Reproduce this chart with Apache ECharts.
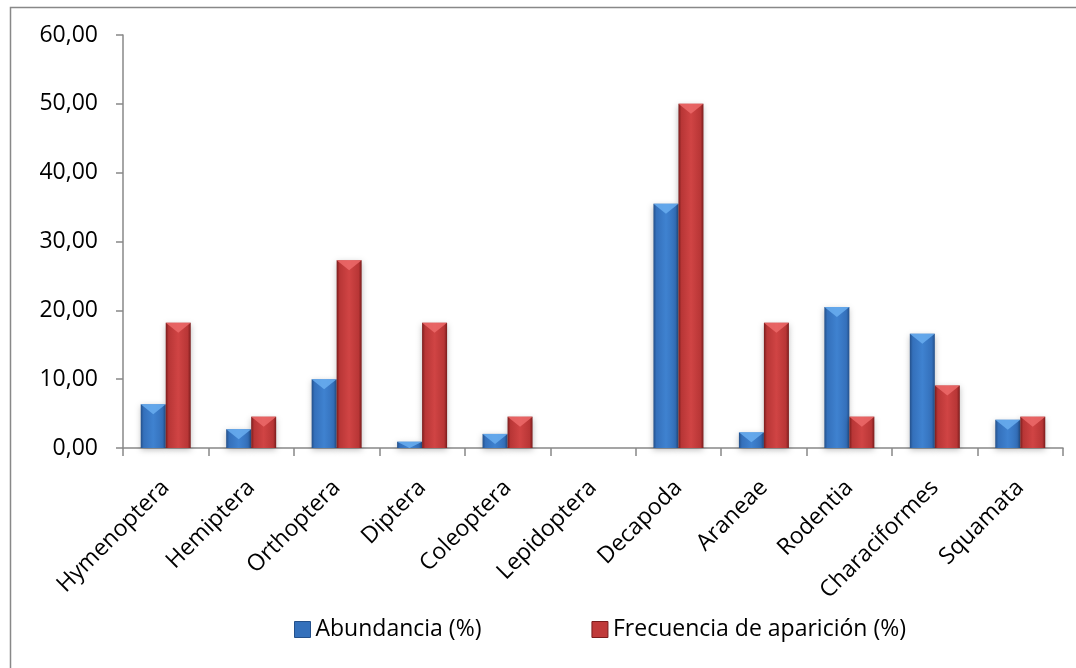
<!DOCTYPE html>
<html>
<head>
<meta charset="utf-8">
<script src="https://cdn.jsdelivr.net/npm/echarts@6/dist/echarts.min.js"></script>
<style>
html,body{margin:0;padding:0;background:#fff;}
#c{width:1076px;height:668px;}
</style>
</head>
<body>
<div id="c"></div>
<script>
const categories = ['Hymenoptera','Hemiptera','Orthoptera','Diptera','Coleoptera','Lepidoptera','Decapoda','Araneae','Rodentia','Characiformes','Squamata'];
const abundancia = [6.36, 2.73, 10.0, 0.91, 2.05, 0, 35.5, 2.27, 20.5, 16.6, 4.1];
const frecuencia = [18.18, 4.55, 27.27, 18.18, 4.55, 0, 50.0, 18.18, 4.55, 9.09, 4.55];
const seriesNames = ['Abundancia (%)', 'Frecuencia de aparición (%)'];
const yTicks = { min: 0, max: 60, interval: 10 };

const FONT = 'Open Sans';
const BAR_W = 25;
function grad(dark, mid, light) {
  return new echarts.graphic.LinearGradient(0, 0, 1, 0, [
    { offset: 0, color: dark },
    { offset: 0.12, color: mid },
    { offset: 0.5, color: light },
    { offset: 0.88, color: mid },
    { offset: 1, color: dark }
  ]);
}
const blue = grad('#24508a', '#3470bb', '#3f82d0');
const red = grad('#7a1c1c', '#b83636', '#d04444');

// bevel highlight on top of each bar, positioned through the axis scales
function bevelSeries(values, side, color) {
  return {
    type: 'custom', silent: true, z: 3, legendHoverLink: false,
    data: values.map((v, i) => [i, v]),
    renderItem: function (params, api) {
      const v = api.value(1);
      if (!(v > 0)) return null;
      const top = api.coord([api.value(0), v]);
      const base = api.coord([api.value(0), 0]);
      const cx = top[0] + side * BAR_W / 2;
      const x0 = cx - BAR_W / 2, x1 = cx + BAR_W / 2;
      const h = base[1] - top[1];
      const d = Math.min(10, h);
      return {
        type: 'polygon',
        shape: { points: [[x0, top[1]], [x1, top[1]], [cx, top[1] + d]] },
        style: { fill: color, opacity: 0.85 }
      };
    }
  };
}

const chart = echarts.init(document.getElementById('c'), null, { renderer: 'canvas' });
chart.setOption({
  animation: false,
  backgroundColor: '#ffffff',
  graphic: [{
    type: 'rect', left: 8, top: 5, silent: true, z: -1,
    shape: { x: 0, y: 0, width: 1200, height: 800 },
    style: { fill: 'none', stroke: '#888888', lineWidth: 1.5 }
  }],
  grid: { left: 123, right: 13, top: 35, bottom: 220, containLabel: false },
  legend: {
    left: 289, top: 613,
    itemWidth: 16, itemHeight: 16, itemGap: 110,
    textStyle: { fontFamily: FONT, fontSize: 23, color: '#000' },
    data: [
      { name: seriesNames[0], icon: 'rect', itemStyle: { color: '#3470bb', borderColor: '#24508a', borderWidth: 1 } },
      { name: seriesNames[1], icon: 'rect', itemStyle: { color: '#c03a3a', borderColor: '#7a1c1c', borderWidth: 1 } }
    ]
  },
  xAxis: {
    type: 'category',
    data: categories,
    axisLine: { lineStyle: { color: '#888888', width: 1.5 } },
    axisTick: { show: true, alignWithLabel: false, length: 8, lineStyle: { color: '#888888', width: 1.5 } },
    axisLabel: { rotate: 45, interval: 0, margin: 36, fontFamily: FONT, fontSize: 23, color: '#000' }
  },
  yAxis: {
    type: 'value',
    min: yTicks.min, max: yTicks.max, interval: yTicks.interval,
    splitLine: { show: false },
    axisLine: { show: true, lineStyle: { color: '#888888', width: 1.5 } },
    axisTick: { show: true, length: 7, lineStyle: { color: '#888888', width: 1.5 } },
    axisLabel: {
      margin: 25, fontFamily: FONT, fontSize: 23, color: '#000',
      formatter: v => v.toFixed(2).replace('.', ',')
    }
  },
  series: [
    {
      name: seriesNames[0], type: 'bar', data: abundancia,
      barWidth: BAR_W, barGap: '0%',
      itemStyle: { color: blue, shadowColor: 'rgba(0,0,0,0.25)', shadowBlur: 6, shadowOffsetY: 2 }
    },
    {
      name: seriesNames[1], type: 'bar', data: frecuencia,
      barWidth: BAR_W, barGap: '0%',
      itemStyle: { color: red, shadowColor: 'rgba(0,0,0,0.25)', shadowBlur: 6, shadowOffsetY: 2 }
    },
    bevelSeries(abundancia, -1, '#6aaef0'),
    bevelSeries(frecuencia, 1, '#ec6a6a')
  ]
});
</script>
</body>
</html>
